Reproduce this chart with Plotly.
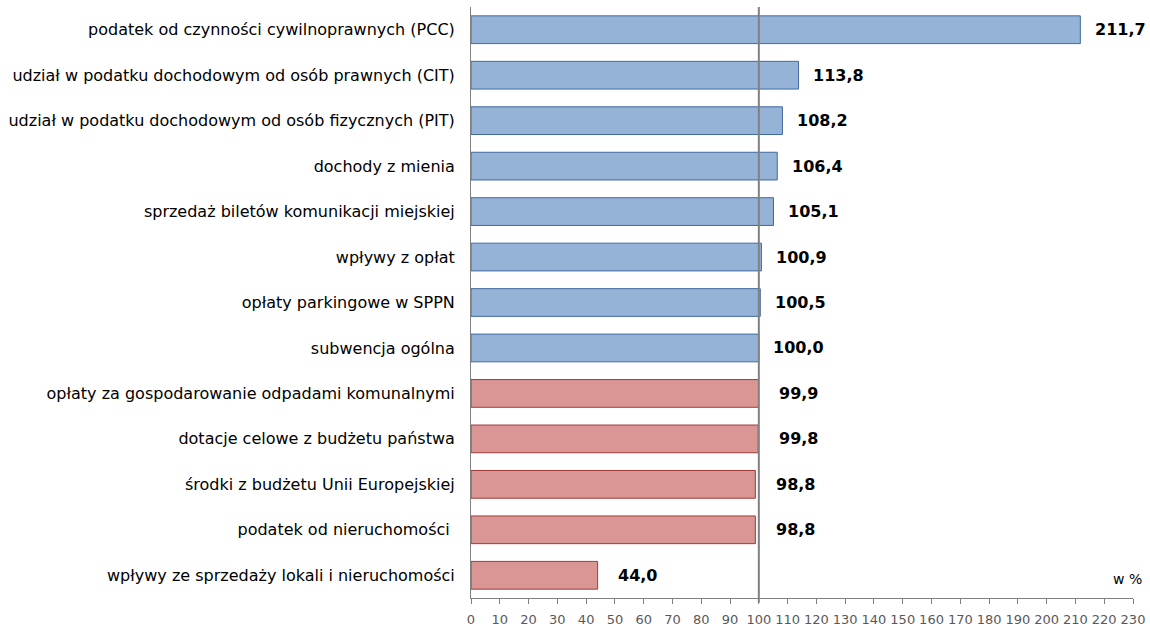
import plotly.graph_objects as go

# data (w %)
categories = [
    "podatek od czynności cywilnoprawnych (PCC)",
    "udział w podatku dochodowym od osób prawnych (CIT)",
    "udział w podatku dochodowym od osób fizycznych (PIT)",
    "dochody z mienia",
    "sprzedaż biletów komunikacji miejskiej",
    "wpływy z opłat",
    "opłaty parkingowe w SPPN",
    "subwencja ogólna",
    "opłaty za gospodarowanie odpadami komunalnymi",
    "dotacje celowe z budżetu państwa",
    "środki z budżetu Unii Europejskiej",
    "podatek od nieruchomości ",
    "wpływy ze sprzedaży lokali i nieruchomości",
]
values = [211.7, 113.8, 108.2, 106.4, 105.1, 100.9, 100.5, 100.0, 99.9, 99.8, 98.8, 98.8, 44.0]
x_ticks = list(range(0, 231, 10))

BLUE_FILL, BLUE_LINE = "#95B3D7", "#4069A0"
RED_FILL, RED_LINE = "#D99694", "#A0393A"

fill = [BLUE_FILL if v >= 100 else RED_FILL for v in values]
edge = [BLUE_LINE if v >= 100 else RED_LINE for v in values]

fig = go.Figure()
fig.add_trace(go.Bar(
    x=values, y=categories, orientation="h",
    marker=dict(color=fill, line=dict(color=edge, width=1)),
    width=0.61,
    hoverinfo="x+y",
))

# value labels next to bars
for cat, v in zip(categories, values):
    fig.add_annotation(
        x=v, y=cat, xref="x", yref="y",
        text="<b>" + f"{v:.1f}".replace(".", ",") + "</b>",
        showarrow=False, xanchor="center", xshift=40,
        font=dict(family="DejaVu Sans", size=16, color="black"),
    )

fig.add_annotation(
    text="w %", xref="paper", yref="paper", x=1.016, y=0.032,
    xanchor="right", yanchor="middle", showarrow=False,
    font=dict(family="DejaVu Sans", size=14, color="black"),
)

# reference line at 100
fig.add_shape(type="line", xref="x", yref="paper", x0=100, x1=100, y0=-0.008, y1=1,
              line=dict(color="#808080", width=2))

fig.update_xaxes(
    range=[0, 230], tickvals=x_ticks, ticktext=[str(t) for t in x_ticks],
    showgrid=False, zeroline=False, automargin=False,
    showline=True, linecolor="#808080", linewidth=1,
    ticks="outside", ticklen=5, tickcolor="#808080",
    tickangle=0, ticklabelstandoff=4,
    tickfont=dict(family="DejaVu Sans", size=13, color="#595959"),
)
fig.update_yaxes(
    autorange="reversed", showgrid=False, zeroline=False, automargin=False,
    showline=True, linecolor="#808080", linewidth=1,
    ticks="", ticklabelstandoff=12,
    tickfont=dict(family="DejaVu Sans", size=16, color="black"),
)

fig.update_layout(
    width=1150, height=627,
    margin=dict(l=471, r=17, t=7, b=29),
    plot_bgcolor="white", paper_bgcolor="white",
    showlegend=False, bargap=0.39,
)

# drop the default page margin so the figure sits at the window origin
fig.write_html("out.html", config={"displayModeBar": False},
               post_script="document.body.style.margin='0';")
